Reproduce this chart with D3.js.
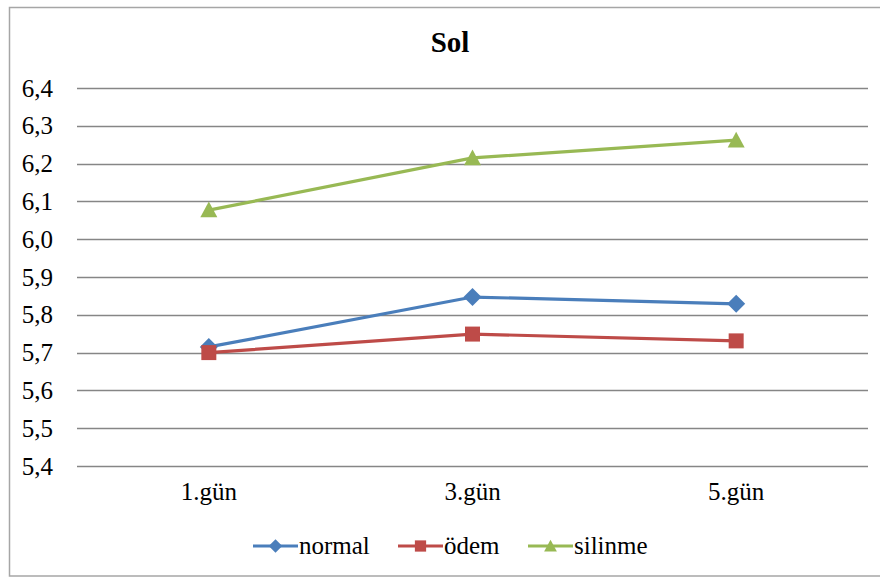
<!DOCTYPE html>
<html>
<head>
<meta charset="utf-8">
<script src="https://cdn.jsdelivr.net/npm/d3@7"></script>
<style>
  body { margin: 0; background: #fff; font-family: "Liberation Serif", "Times New Roman", serif; }
  svg { display: block; }
  text { font-family: "Liberation Serif", "Times New Roman", serif !important; }
</style>
</head>
<body>
<svg id="chart" width="880" height="578" font-family="Liberation Serif"></svg>
<script>
// Chart data
const days = ["1.gün", "3.gün", "5.gün"];
const normal = [5.715, 5.847, 5.829];
const odem = [5.700, 5.749, 5.731];
const silinme = [6.077, 6.215, 6.262];
const yTicks = [5.4, 5.5, 5.6, 5.7, 5.8, 5.9, 6.0, 6.1, 6.2, 6.3, 6.4];

// marker outlines, half-size r
const shapes = {
  diamond: (r) => `M0,${-r}L${r},0L0,${r}L${-r},0Z`,
  square: (r) => `M${-r},${-r}H${r}V${r}H${-r}Z`,
  triangle: (r) => `M0,${-r}L${r},${r * 0.85}L${-r},${r * 0.85}Z`,
};

const series = [
  { name: "normal", values: normal, color: "#4A7EBB", shape: shapes.diamond, r: 9 },
  { name: "ödem", values: odem, color: "#BE4B48", shape: shapes.square, r: 7.5 },
  { name: "silinme", values: silinme, color: "#98B954", shape: shapes.triangle, r: 8.5 },
];

const svg = d3.select("#chart");
const margin = { top: 88, right: 12, bottom: 112, left: 77 };
const width = 880 - margin.left - margin.right;
const height = 578 - margin.top - margin.bottom;

// outer chart frame
svg.append("rect")
  .attr("x", 9.5).attr("y", 7.5)
  .attr("width", 880).attr("height", 568.5)
  .attr("fill", "#fff")
  .attr("stroke", "#a6a6a6")
  .attr("stroke-width", 1.5);

svg.append("text")
  .attr("x", 450).attr("y", 52)
  .attr("text-anchor", "middle")
  .attr("font-family", "Liberation Serif")
  .attr("font-weight", "bold")
  .attr("font-size", 29)
  .text("Sol");

const g = svg.append("g").attr("transform", `translate(${margin.left},${margin.top})`);

const x = d3.scaleBand().domain(days).range([0, width]);
const y = d3.scaleLinear().domain([5.4, 6.4]).range([height, 0]);
const fmt = (d) => d3.format(".1f")(d).replace(".", ",");

// gridlines
g.append("g")
  .selectAll("line")
  .data(yTicks)
  .join("line")
  .attr("x1", 0).attr("x2", width)
  .attr("y1", (d) => Math.round(y(d)) + 0.5)
  .attr("y2", (d) => Math.round(y(d)) + 0.5)
  .attr("stroke", "#868686")
  .attr("stroke-width", 1.3);

// y axis labels
const yAxis = g.append("g")
  .call(d3.axisLeft(y).tickValues(yTicks).tickFormat(fmt).tickSize(0).tickPadding(24))
  .attr("font-family", "Liberation Serif")
  .attr("font-size", 25);
yAxis.select(".domain").remove();
yAxis.selectAll("text").attr("fill", "#000");

// x axis labels
const xAxis = g.append("g")
  .attr("transform", `translate(0,${height})`)
  .call(d3.axisBottom(x).tickSize(0).tickPadding(16))
  .attr("font-family", "Liberation Serif")
  .attr("font-size", 25);
xAxis.select(".domain").remove();
xAxis.selectAll("text").attr("fill", "#000");

const line = d3.line()
  .x((d, i) => x(days[i]) + x.bandwidth() / 2)
  .y((d) => y(d));

series.forEach((s) => {
  g.append("path")
    .datum(s.values)
    .attr("fill", "none")
    .attr("stroke", s.color)
    .attr("stroke-width", 3.2)
    .attr("d", line);

  g.append("g")
    .selectAll("path")
    .data(s.values)
    .join("path")
    .attr("transform", (d, i) => `translate(${x(days[i]) + x.bandwidth() / 2},${y(d)})`)
    .attr("d", s.shape(s.r))
    .attr("fill", s.color);
});

// legend
const legendX = [253, 398, 528];
const legend = svg.append("g").attr("transform", "translate(0,546)");
series.forEach((s, i) => {
  const lg = legend.append("g").attr("transform", `translate(${legendX[i]},0)`);
  lg.append("line")
    .attr("x1", 0).attr("x2", 45)
    .attr("stroke", s.color)
    .attr("stroke-width", 3.2);
  lg.append("path")
    .attr("transform", "translate(22.5,0)")
    .attr("d", s.shape(s.r * 0.75))
    .attr("fill", s.color);
  lg.append("text")
    .attr("x", 46).attr("y", 8)
    .attr("font-family", "Liberation Serif")
    .attr("font-size", 25)
    .text(s.name);
});
</script>
</body>
</html>
